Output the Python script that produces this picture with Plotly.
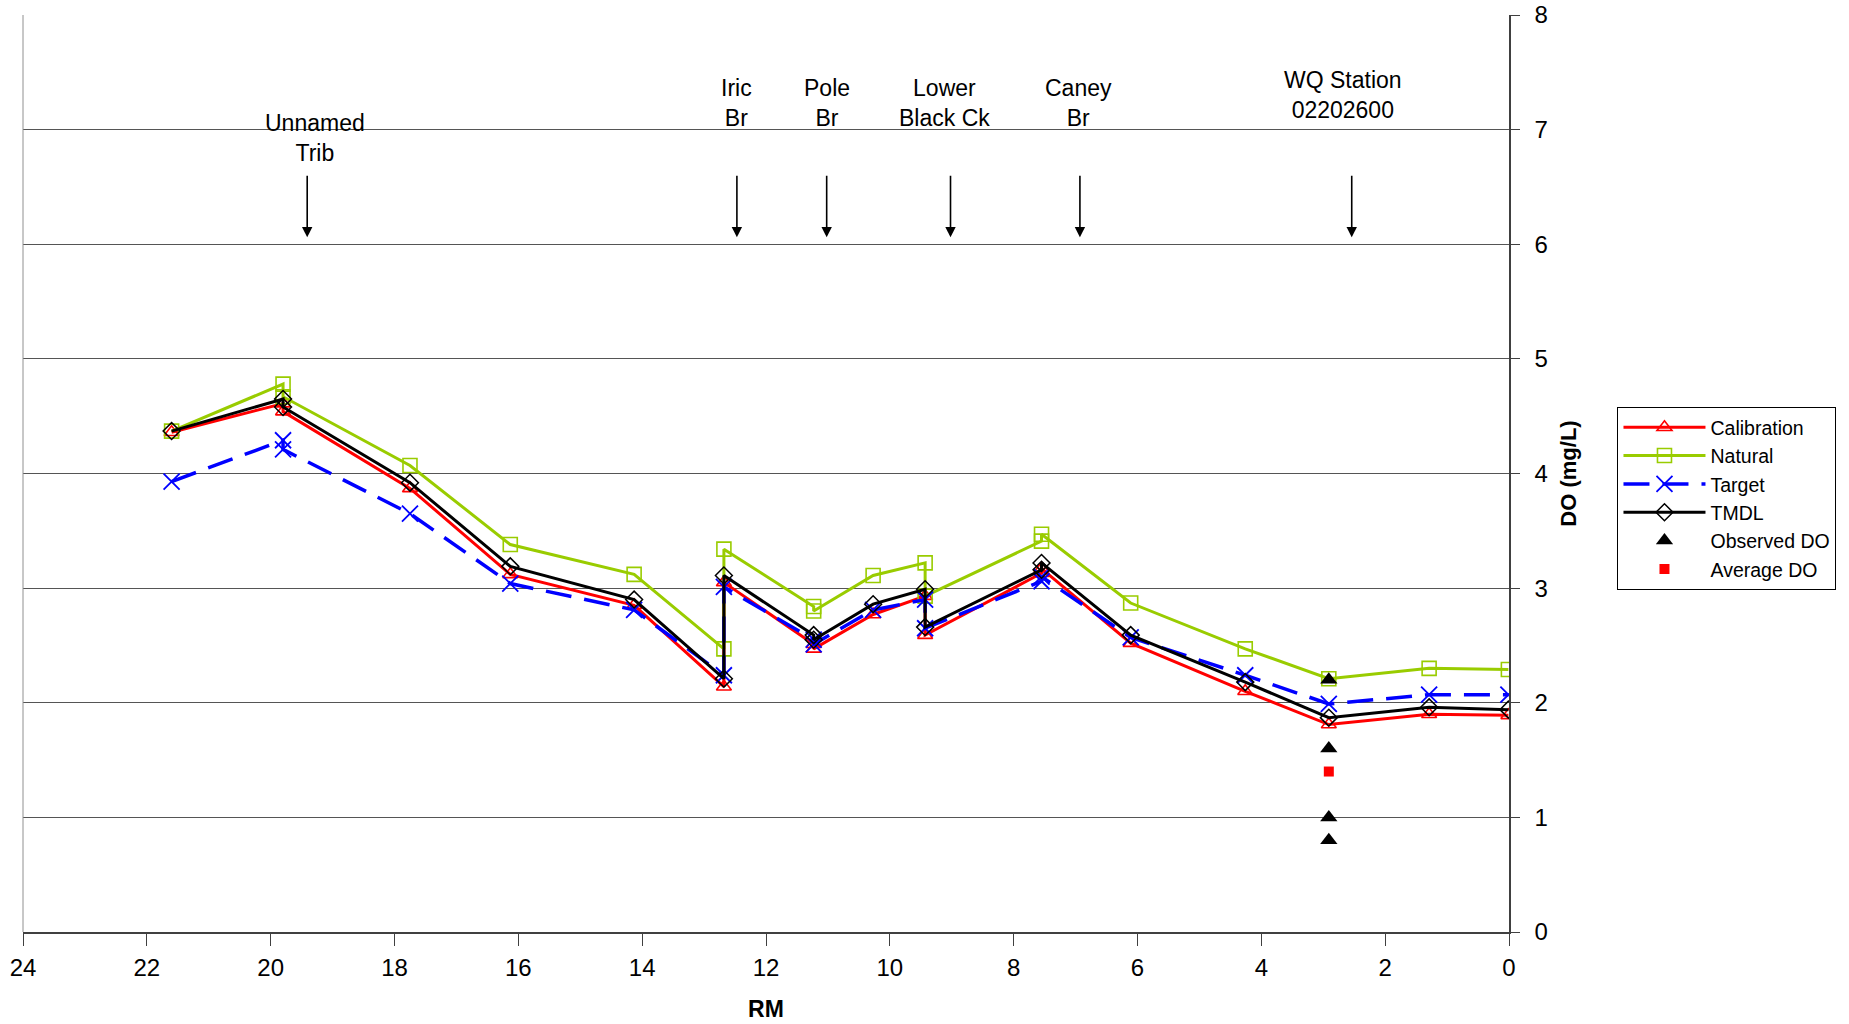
import plotly.graph_objects as go

# River mile of each model point (two points where a tributary enters)
rm = [21.6, 19.8, 19.8, 17.75, 16.13, 14.13, 12.68, 12.68, 11.23, 11.23,
      10.27, 9.43, 9.43, 7.55, 7.55, 6.11, 4.26, 2.91, 1.29, 0.01]

calibration = [4.36, 4.61, 4.54, 3.87, 3.12, 2.85, 2.14, 3.05, 2.51, 2.47,
               2.77, 2.93, 2.59, 3.13, 3.17, 2.52, 2.10, 1.81, 1.90, 1.89]
natural = [4.37, 4.78, 4.67, 4.07, 3.38, 3.12, 2.47, 3.34, 2.84, 2.80,
           3.11, 3.22, 2.93, 3.41, 3.47, 2.87, 2.47, 2.21, 2.30, 2.29]
target = [3.93, 4.29, 4.21, 3.65, 3.04, 2.81, 2.24, 3.01, 2.55, 2.51,
          2.81, 2.90, 2.65, 3.06, 3.10, 2.57, 2.24, 1.99, 2.07, 2.07]
tmdl = [4.37, 4.65, 4.58, 3.92, 3.19, 2.90, 2.21, 3.11, 2.59, 2.55,
        2.86, 2.99, 2.66, 3.16, 3.22, 2.59, 2.18, 1.87, 1.96, 1.94]

obs_rm = [2.91, 2.91, 2.91, 2.91]
observed_do = [2.2, 1.6, 1.0, 0.8]
avg_rm = [2.91]
average_do = [1.4]

# Landmarks: label, label position (RM), arrow position (RM), label y
landmark_labels = ["Unnamed<br>Trib", "Iric<br>Br", "Pole<br>Br",
                   "Lower<br>Black Ck", "Caney<br>Br", "WQ Station<br>02202600"]
landmark_text_rm = [19.29, 12.47, 11.02, 9.12, 6.95, 2.68]
landmark_arrow_rm = [19.41, 12.47, 11.02, 9.02, 6.93, 2.54]
landmark_text_y = [6.93, 7.23, 7.23, 7.23, 7.23, 7.30]

x_ticks = [24, 22, 20, 18, 16, 14, 12, 10, 8, 6, 4, 2, 0]
y_ticks = [0, 1, 2, 3, 4, 5, 6, 7, 8]

FONT = "Liberation Sans, Arial, sans-serif"
GREEN = "#99CC00"

fig = go.Figure()
fig.add_trace(go.Scatter(
    x=rm, y=calibration, name="Calibration", mode="lines+markers",
    line=dict(color="#FF0000", width=3),
    marker=dict(symbol="triangle-up-open", size=13, color="#FF0000",
                line=dict(width=1.6, color="#FF0000"))))
fig.add_trace(go.Scatter(
    x=rm, y=natural, name="Natural", mode="lines+markers",
    line=dict(color=GREEN, width=3),
    marker=dict(symbol="square-open", size=14, color=GREEN,
                line=dict(width=1.6, color=GREEN))))
fig.add_trace(go.Scatter(
    x=rm, y=target, name="Target", mode="lines+markers",
    line=dict(color="#0000FF", width=3.5, dash="26px,13px"),
    marker=dict(symbol="x-thin-open", size=16, color="#0000FF",
                line=dict(width=1.8, color="#0000FF"))))
fig.add_trace(go.Scatter(
    x=rm, y=tmdl, name="TMDL", mode="lines+markers",
    line=dict(color="#000000", width=3),
    marker=dict(symbol="diamond-open", size=13, color="#000000",
                line=dict(width=1.5, color="#000000"))))
fig.add_trace(go.Scatter(
    x=obs_rm, y=observed_do, name="Observed DO", mode="markers",
    marker=dict(symbol="triangle-up", size=15, color="#000000")))
fig.add_trace(go.Scatter(
    x=avg_rm, y=average_do, name="Average DO", mode="markers",
    marker=dict(symbol="square", size=10, color="#FF0000")))

annotations = []
for lab, trm, ty in zip(landmark_labels, landmark_text_rm, landmark_text_y):
    annotations.append(dict(
        x=trm, y=ty, xref="x", yref="y", text=lab, showarrow=False,
        xanchor="center", yanchor="middle", align="center",
        font=dict(family=FONT, size=23, color="#000000")))
for arm in landmark_arrow_rm:
    annotations.append(dict(
        x=arm, y=6.06, xref="x", yref="y", ax=arm, ay=6.61,
        axref="x", ayref="y", text="", showarrow=True,
        arrowhead=2, arrowsize=1.3, arrowwidth=1.6, arrowcolor="#000000"))

fig.update_layout(
    width=1849, height=1024,
    margin=dict(l=23, r=340, t=15, b=92, autoexpand=False),
    paper_bgcolor="white", plot_bgcolor="white",
    font=dict(family=FONT, color="#000000"),
    showlegend=True,
    legend=dict(
        x=1.073, y=0.5725, xanchor="left", yanchor="top",
        bgcolor="white", bordercolor="#000000", borderwidth=1,
        font=dict(family=FONT, size=19.5, color="#000000"),
        itemwidth=82),
    annotations=annotations,
    xaxis=dict(
        range=[24, 0], tickmode="array", tickvals=x_ticks,
        ticktext=[str(v) for v in x_ticks], automargin=False,
        showgrid=False, zeroline=False,
        showline=True, linecolor="#404040", linewidth=2,
        ticks="outside", ticklen=12, tickwidth=1, tickcolor="#404040",
        ticklabelstandoff=1,
        tickfont=dict(family=FONT, size=24, color="#000000"),
        title=dict(text="<b>RM</b>", standoff=21,
                   font=dict(family=FONT, size=23, color="#000000"))),
    yaxis=dict(
        range=[0, 8], side="right", tickmode="array", tickvals=y_ticks,
        ticktext=[str(v) for v in y_ticks], automargin=False,
        showgrid=True, gridcolor="#555555", gridwidth=1, zeroline=False,
        showline=True, linecolor="#404040", linewidth=1.5,
        ticks="outside", ticklen=9, tickwidth=1, tickcolor="#404040",
        ticklabelstandoff=10,
        tickfont=dict(family=FONT, size=24, color="#000000"),
        title=dict(text="<b>DO (mg/L)</b>", standoff=14,
                   font=dict(family=FONT, size=22, color="#000000"))),
    shapes=[dict(type="line", xref="paper", yref="paper",
                 x0=0, x1=0, y0=0, y1=1,
                 line=dict(color="#909090", width=1))],
)

# Remove the browser's default 8px body margin so the figure fills the window.
fig.write_html("out.html",
               config={"displayModeBar": False},
               post_script="document.body.style.margin='0';"
                           "document.body.style.overflow='hidden';")
